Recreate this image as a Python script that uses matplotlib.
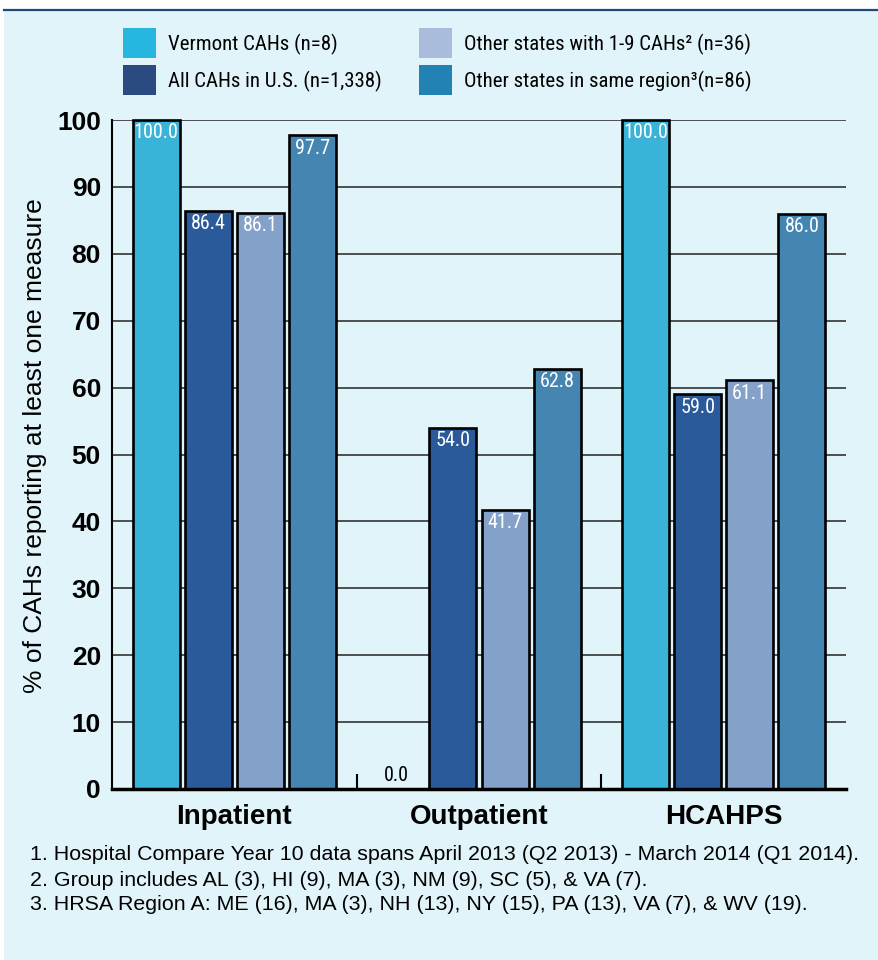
import numpy as np
import matplotlib
matplotlib.use("Agg")
import matplotlib.pyplot as plt
from matplotlib import font_manager
from matplotlib.patches import Rectangle
from matplotlib.lines import Line2D

# data
categories = ["Inpatient", "Outpatient", "HCAHPS"]
series_names = ["Vermont CAHs (n=8)",
                "All CAHs in U.S. (n=1,338)",
                "Other states with 1-9 CAHs\u00b2 (n=36)",
                "Other states in same region\u00b3(n=86)"]
vermont = [100.0, 0.0, 100.0]
all_cahs = [86.4, 54.0, 59.0]
other_1_9 = [86.1, 41.7, 61.1]
other_region = [97.7, 62.8, 86.0]
footnotes = ["1. Hospital Compare Year 10 data spans April 2013 (Q2 2013) - March 2014 (Q1 2014).",
             "2. Group includes AL (3), HI (9), MA (3), NM (9), SC (5), & VA (7).",
             "3. HRSA Region A: ME (16), MA (3), NH (13), NY (15), PA (13), VA (7), & WV (19)."]

bar_colors = ["#3AB3D9", "#2B5A9B", "#84A1CA", "#4585B2"]
legend_colors = ["#26B6E0", "#2B4A80", "#A9BCDB", "#2282B4"]
bg = "#E1F4FA"
sans = ["Liberation Sans", "DejaVu Sans"]
W, H = 879, 960

# pick a narrow face for the legend / value labels if one is installed
installed = {f.name for f in font_manager.fontManager.ttflist}
narrow = None
for cand in ["Roboto Condensed", "Liberation Sans Narrow", "Open Sans Condensed"]:
    if cand in installed:
        narrow = cand
        break
if narrow:
    nfont = dict(family=[narrow, "DejaVu Sans"])
    leg_size, val_size = 15, 14.5
else:
    nfont = dict(family="DejaVu Sans", fontstretch="condensed")
    leg_size, val_size = 13, 12.5

fig = plt.figure(figsize=(8.79, 9.6), dpi=100)
fig.patch.set_facecolor("white")
# light blue panel and top rule
fig.add_artist(Rectangle((4 / W, 0), 1, 1 - 11 / H, transform=fig.transFigure,
                         facecolor=bg, edgecolor="none", zorder=0))
fig.add_artist(Line2D([4 / W, 1], [1 - 10 / H] * 2, transform=fig.transFigure,
                      color="#1F4A78", lw=1.6))

ax = fig.add_axes([112 / W, 1 - 789 / H, 734 / W, 669 / H])
ax.set_facecolor(bg)

x = np.arange(len(categories))
step = 0.213
width = 0.192
series = [vermont, all_cahs, other_1_9, other_region]
for i, vals in enumerate(series):
    pos = x + (i - 1.5) * step
    bars = ax.bar(pos, vals, width, color=bar_colors[i], edgecolor="black",
                  linewidth=1.9, zorder=3, clip_on=False)
    for b, v in zip(bars, vals):
        cx = b.get_x() + b.get_width() / 2
        if v > 0:
            ax.annotate(f"{v:.1f}", (cx, v), xytext=(0, -2.5), textcoords="offset points",
                        ha="center", va="top", color="white", fontsize=val_size,
                        zorder=4, **nfont)
        else:
            ax.annotate(f"{v:.1f}", (cx - 0.02, v), xytext=(0, 3), textcoords="offset points",
                        ha="center", va="bottom", color="black", fontsize=val_size,
                        zorder=4, **nfont)

ax.set_xlim(-0.5, 2.5)
ax.set_ylim(0, 100)
ax.set_yticks(range(0, 101, 10))
ax.yaxis.grid(True, color="#333333", lw=1.2, zorder=0)
ax.tick_params(axis="y", length=0, pad=8, labelsize=19)
for lab in ax.get_yticklabels():
    lab.set_fontweight("bold")
    lab.set_family(sans)

ax.set_xticks(x)
ax.set_xticklabels(categories, fontsize=20, fontweight="bold", family=sans)
ax.tick_params(axis="x", which="major", length=0, pad=11)
ax.set_xticks([0.5, 1.5], minor=True)
ax.tick_params(axis="x", which="minor", direction="in", length=11, width=1.5, color="black")

ax.set_ylabel("% of CAHs reporting at least one measure", fontsize=19, family=sans)
ax.yaxis.set_label_coords(-0.088, 0.514)

for s in ["top", "right"]:
    ax.spines[s].set_visible(False)
ax.spines["left"].set_linewidth(1.5)
ax.spines["bottom"].set_linewidth(2.5)
ax.spines["bottom"].set_zorder(5)

# legend: 2 columns, drawn by hand
leg_x = [123, 419]
leg_y = [28, 65]
for k, (name, col) in enumerate(zip(series_names, legend_colors)):
    c, r = divmod(k, 2)
    fig.add_artist(Rectangle((leg_x[c] / W, 1 - (leg_y[r] + 30) / H), 33 / W, 30 / H,
                             transform=fig.transFigure, facecolor=col, edgecolor="none"))
    fig.text((leg_x[c] + 45) / W, 1 - (leg_y[r] + 16) / H, name, fontsize=leg_size,
             va="center", ha="left", **nfont)

for k, line in enumerate(footnotes):
    fig.text(30 / W, 1 - (855 + 25 * k) / H, line, fontsize=15.4, family=sans,
             va="center", ha="left")

fig.savefig("out.png", dpi=100, facecolor=fig.get_facecolor())
